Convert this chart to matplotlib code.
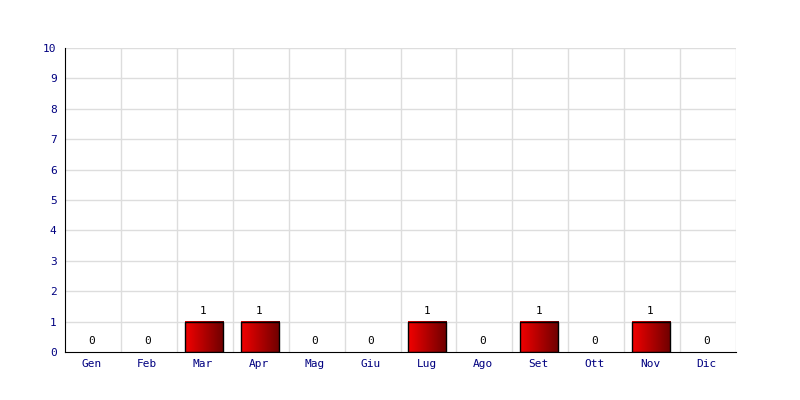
import numpy as np
import matplotlib
matplotlib.use("Agg")
import matplotlib.pyplot as plt
from matplotlib.colors import LinearSegmentedColormap

# dati mensili
mesi = ["Gen", "Feb", "Mar", "Apr", "Mag", "Giu", "Lug", "Ago", "Set", "Ott", "Nov", "Dic"]
valori = [0, 0, 1, 1, 0, 0, 1, 0, 1, 0, 1, 0]
y_ticks = list(range(0, 11))

plt.rcParams["font.family"] = ["DejaVu Sans Mono"]

fig = plt.figure(figsize=(8, 4), dpi=100)
ax = fig.add_axes([65 / 800, 48 / 400, 671 / 800, 304 / 400])

n = len(mesi)

# griglia
for i in range(1, n + 1):
    ax.axvline(i, color="#dddddd", lw=1, zorder=0)
for t in y_ticks[1:]:
    ax.axhline(t, color="#dddddd", lw=1, zorder=0)

cmap = LinearSegmentedColormap.from_list("rosso", ["#f20000", "#6e0000"])
grad = np.linspace(0, 1, 64).reshape(1, -1)
larghezza = 0.68

for i, v in enumerate(valori):
    x0 = i + 0.14
    if v > 0:
        ax.imshow(grad, cmap=cmap, extent=[x0, x0 + larghezza, 0, v],
                  aspect="auto", zorder=2, interpolation="bilinear")
        ax.add_patch(plt.Rectangle((x0, 0), larghezza, v, fill=False,
                                   edgecolor="black", lw=1, zorder=3))
    ax.text(i + 0.47, v + 0.2, str(v), ha="center", va="bottom",
            fontsize=8, color="black")

ax.set_xlim(0, n)
ax.set_ylim(0, 10)
ax.set_xticks([i + 0.47 for i in range(n)])
ax.set_xticklabels(mesi)
ax.set_yticks(y_ticks)
ax.tick_params(axis="x", length=0, labelsize=8, labelcolor="#000080", pad=5)
ax.tick_params(axis="y", length=0, labelsize=8, labelcolor="#000080", pad=6)

for s in ["top", "right"]:
    ax.spines[s].set_visible(False)
ax.spines["left"].set_color("black")
ax.spines["bottom"].set_color("black")

fig.savefig("out.png", dpi=100)
